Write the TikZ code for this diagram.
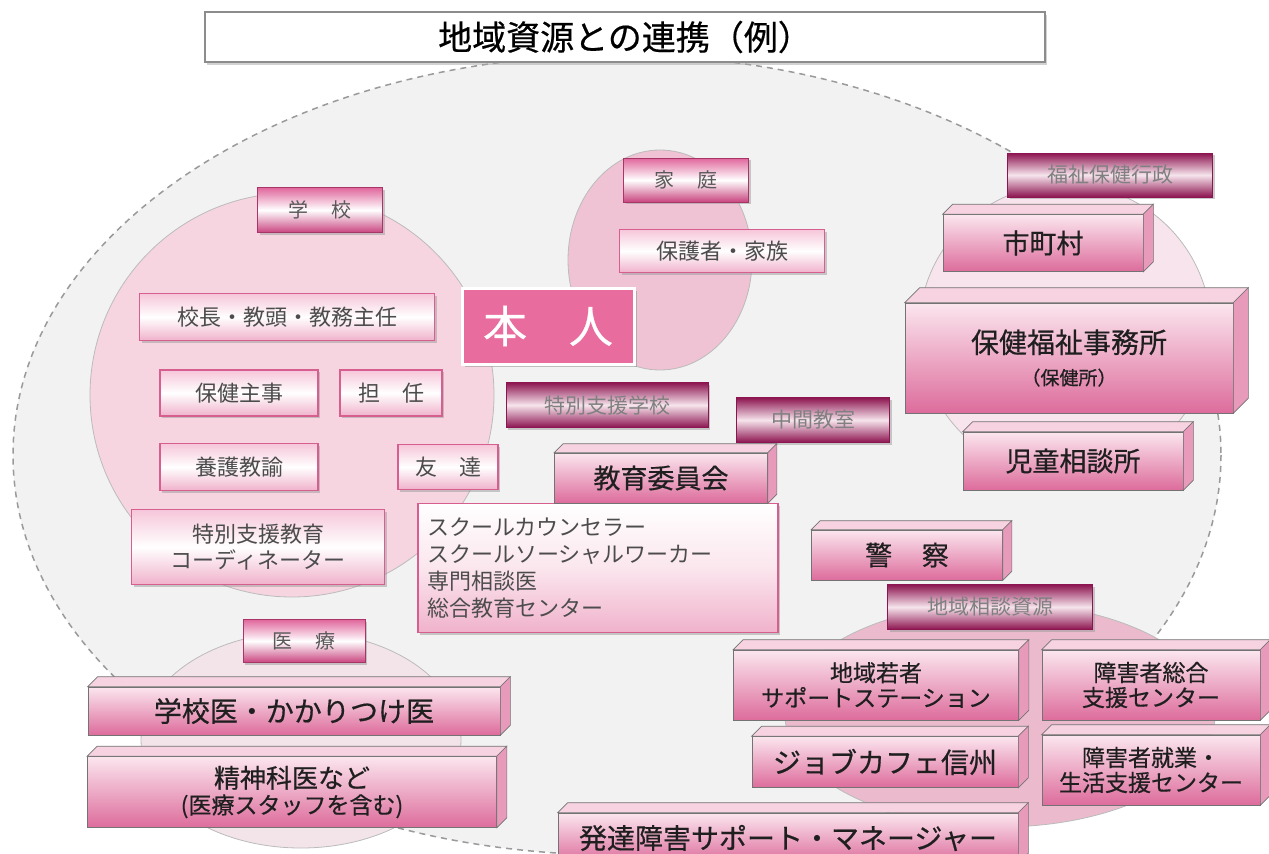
\documentclass[tikz,border=0pt]{standalone}
\usepackage{fontspec}
\setmainfont{Noto Sans CJK JP}
\newfontface\heavy[FakeBold=0.5]{Noto Sans CJK JP}
\usetikzlibrary{shadows,calc}
\definecolor{BgGray}{HTML}{F2F2F2}
\definecolor{DashGray}{HTML}{9A9A9A}
\definecolor{CircB}{HTML}{BBBBBB}
\definecolor{SchoolC}{HTML}{F6D5E1}
\definecolor{FamC}{HTML}{EFC3D4}
\definecolor{WelC}{HTML}{F8E4EC}
\definecolor{MedC}{HTML}{F3E4EA}
\definecolor{RegC}{HTML}{EBBBCD}
\definecolor{LblPink}{HTML}{E0669C}
\definecolor{LblPinkB}{HTML}{C9457F}
\definecolor{LblBorder}{HTML}{A83468}
\definecolor{MagDark}{HTML}{8C1450}
\definecolor{MagLight}{HTML}{F6E4EC}
\definecolor{SoftPink}{HTML}{F6C6D9}
\definecolor{SoftPinkB}{HTML}{F0B2CB}
\definecolor{SoftBorder}{HTML}{D65F90}
\definecolor{FrontTop}{HTML}{FBE6EE}
\definecolor{FrontBot}{HTML}{DD6C9C}
\definecolor{TopFace}{HTML}{F7D3E1}
\definecolor{SideFace}{HTML}{E79ABA}
\definecolor{Honin}{HTML}{E96C9E}
\tikzset{
  base/.style={inner sep=0pt, align=center},
  lightlbl/.style={base, draw=LblBorder, line width=0.8pt, top color=LblPink, bottom color=LblPinkB, middle color=white,
    drop shadow={shadow xshift=2pt, shadow yshift=-2pt, fill=black!40}, font=\fontsize{20}{22}\selectfont, text=black!65},
  darklbl/.style={base, draw=MagDark, line width=0.8pt, top color=MagDark, bottom color=MagDark, middle color=MagLight,
    drop shadow={shadow xshift=2pt, shadow yshift=-2pt, fill=black!40}, font=\fontsize{21}{23}\selectfont, text=black!50},
  softbox/.style={base, draw=SoftBorder, line width=1.2pt, top color=SoftPink, bottom color=SoftPinkB, middle color=white,
    drop shadow={shadow xshift=2pt, shadow yshift=-2pt, fill=black!40}, font=\fontsize{22}{26}\selectfont, text=black!70},
  front/.style={base, draw=black!55, line width=0.6pt, top color=FrontTop, bottom color=FrontBot, text=black!88},
  topface/.style={fill=TopFace, draw=black!55, line width=0.6pt},
  sideface/.style={fill=SideFace, draw=black!55, line width=0.6pt},
  circ/.style={draw=CircB, line width=0.8pt},
}
% name, x, y, w, h, depth, font size, text
\newcommand\cubeat[8]{%
  \node[front, minimum width=#4, minimum height=#5, font=\heavy\fontsize{#7}{#7}\selectfont] (#1) at (#2,#3) {#8};
  \filldraw[topface] (#1.north west) -- ++(#6,-#6) -- ($(#1.north east)+(#6,-#6)$) -- (#1.north east) -- cycle;
  \filldraw[sideface] (#1.north east) -- ++(#6,-#6) -- ($(#1.south east)+(#6,-#6)$) -- (#1.south east) -- cycle;
}
\begin{document}
\begin{tikzpicture}[x=1pt, y=-1pt]
\useasboundingbox (0,0) rectangle (1269,854);
\fill[white] (0,0) rectangle (1269,854);
% big dashed region
\filldraw[fill=BgGray, draw=DashGray, line width=1.5pt, dash pattern=on 6pt off 5pt] (617,455) ellipse [x radius=604, y radius=400];
% circles
\filldraw[circ, fill=SchoolC] (292,395) circle (202);
\filldraw[circ, fill=FamC] (660,260) ellipse [x radius=92, y radius=110];
\filldraw[circ, fill=WelC] (1065,330) circle (146);
\filldraw[circ, fill=MedC] (301,740) ellipse [x radius=160, y radius=108];
\filldraw[circ, fill=RegC] (1000,715) ellipse [x radius=215, y radius=112];
% title
\node[base, draw=black!45, line width=1.2pt, fill=white, minimum width=840, minimum height=50,
  drop shadow={shadow xshift=2pt, shadow yshift=-3pt, fill=black!35}, font=\heavy\fontsize{34}{38}\selectfont] (title) at (625,37) {地域資源との連携（例）};
% labels
\node[lightlbl, minimum width=125, minimum height=45] (gakko) at (320,210) {学\hspace{1.2em}校};
\node[lightlbl, minimum width=125, minimum height=44] (katei) at (686,180) {家\hspace{1.2em}庭};
\node[lightlbl, minimum width=122, minimum height=43] (iryo) at (304,641) {医\hspace{1.2em}療};
\node[darklbl, minimum width=205, minimum height=44] (fukushi) at (1110,175) {福祉保健行政};
\node[darklbl, minimum width=202, minimum height=45] (tokushi) at (607,405) {特別支援学校};
\node[darklbl, minimum width=153, minimum height=45] (chukan) at (813,420) {中間教室};
\node[darklbl, minimum width=205, minimum height=45] (chiiki) at (990,607) {地域相談資源};
% soft boxes
\node[softbox, minimum width=205, minimum height=43] (hogosha) at (722,251) {保護者・家族};
\node[softbox, minimum width=295, minimum height=47] (kocho) at (287,317) {校長・教頭・教務主任};
\node[softbox, minimum width=158, minimum height=46] (hoken) at (239,393) {保健主事};
\node[softbox, minimum width=102, minimum height=46] (tannin) at (391,393) {担\hspace{1em}任};
\node[softbox, minimum width=158, minimum height=47] (yogo) at (239,467) {養護教諭};
\node[softbox, minimum width=100, minimum height=45] (tomo) at (448,467) {友\hspace{1em}達};
\node[softbox, minimum width=253, minimum height=75] (coord) at (258,547) {特別支援教育\\コーディネーター};
\node[softbox, minimum width=360, minimum height=129, align=left, text width=342, inner xsep=9pt,
  font=\fontsize{22}{27}\selectfont,
  top color=white, bottom color=SoftPinkB, middle color=FrontTop] (school) at (598,568)
  {スクールカウンセラー\\スクールソーシャルワーカー\\専門相談医\\総合教育センター};
% honin
\node[base, fill=Honin, draw=white, line width=3pt, minimum width=172, minimum height=76, text=white,
  drop shadow={shadow xshift=3pt, shadow yshift=-3pt, fill=black!45}, font=\heavy\fontsize{44}{46}\selectfont] (honin) at (548,326) {本\hspace{0.95em}人};
% 3D boxes
\cubeat{shichoson}{1043}{243}{200}{57}{10}{27}{市町村}
\cubeat{hokenjo}{1069}{358}{328}{110}{15}{28}{保健福祉事務所\\[4pt]{\fontsize{19}{21}\selectfont（保健所）}}
\cubeat{jido}{1073}{461}{220}{58}{10}{27}{児童相談所}
\cubeat{kyoiku}{661}{478}{213}{50}{9}{27}{教育委員会}
\cubeat{keisatsu}{907}{555}{191}{50}{9}{27}{警\hspace{1.1em}察}
\cubeat{gakkoi}{294}{711}{412}{48}{10}{28}{学校医・かかりつけ医}
\cubeat{seishin}{292}{792}{409}{71}{10}{26}{精神科医など\\{\fontsize{23}{25}\selectfont (医療スタッフを含む)}}
\cubeat{wakamono}{876}{685}{285}{70}{10}{23}{地域若者\\[2pt]サポートステーション}
\cubeat{shogai}{1151}{685}{218}{70}{10}{23}{障害者総合\\[2pt]支援センター}
\cubeat{jobcafe}{885}{762}{266}{51}{10}{28}{ジョブカフェ信州}
\cubeat{shugyo}{1151}{770}{218}{70}{10}{23}{障害者就業・\\[2pt]生活支援センター}
\cubeat{hattatsu}{788}{838}{460}{50}{10}{28}{発達障害サポート・マネージャー}
\end{tikzpicture}
\end{document}
